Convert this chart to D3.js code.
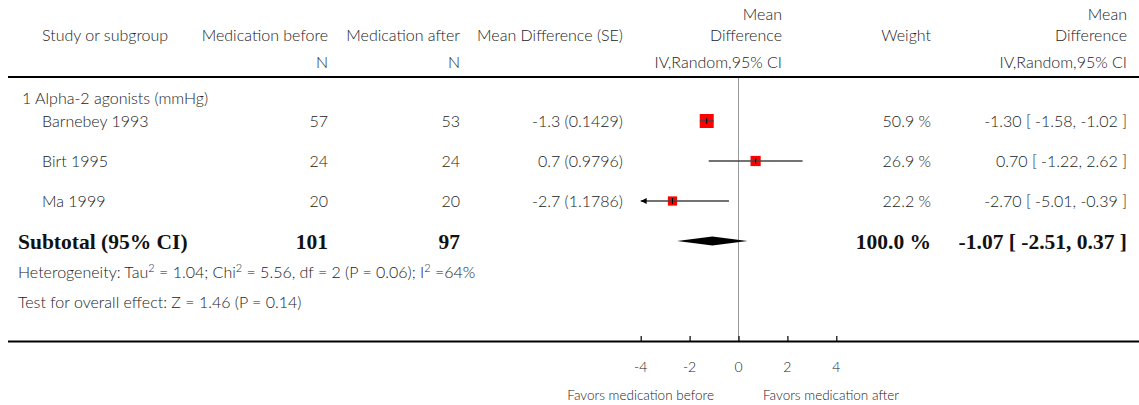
<!DOCTYPE html>
<html>
<head>
<meta charset="utf-8">
<script src="https://cdn.jsdelivr.net/npm/d3@7"></script>
<style>
  body { margin: 0; background: #fff; }
  text { font-family: Lato, "Open Sans", sans-serif; font-weight: 300; fill: #222; }
  .bold { font-family: "Liberation Serif", serif; font-weight: 700; fill: #111; }
</style>
</head>
<body>
<div id="chart"></div>
<script>
// data
const studies = ["Barnebey 1993", "Birt 1995", "Ma 1999"];
const nBefore = [57, 24, 20];
const nAfter = [53, 24, 20];
const meanDiff = [-1.3, 0.7, -2.7];
const se = [0.1429, 0.9796, 1.1786];
const ciLow = [-1.58, -1.22, -5.01];
const ciHigh = [-1.02, 2.62, -0.39];
const weights = [50.9, 26.9, 22.2];
const subtotal = { nBefore: 101, nAfter: 97, est: -1.07, low: -2.51, high: 0.37, weight: 100.0 };
const axisTicks = [-4, -2, 0, 2, 4];

const W = 1139, H = 405;
const svg = d3.select("#chart").append("svg").attr("width", W).attr("height", H);

// plot scale, -4..4
const x = d3.scaleLinear().domain([-4, 4]).range([640.7, 836.3]);
const size = d3.scaleSqrt().domain([0, 50.9]).range([0, 14]);

const col = { study: 42, nb: 328, na: 460, md: 623, plotTxt: 782, wt: 931, ci: 1127 };
const rowY = [126, 166, 206];
const fs = 16;

function txt(xx, yy, s, anchor, cls) {
  const t = svg.append("text").attr("x", xx).attr("y", yy).attr("text-anchor", anchor || "start")
    .style("font-size", fs + "px").text(s);
  if (cls) t.attr("class", cls);
  return t;
}
// hyphen minus like the original, not unicode minus
const fmt2 = v => v.toFixed(2);

// header
txt(col.study, 41, "Study or subgroup");
txt(col.nb, 41, "Medication before", "end");
txt(col.na, 41, "Medication after", "end");
txt(col.md, 41, "Mean Difference (SE)", "end");
txt(col.plotTxt, 20, "Mean", "end");
txt(col.plotTxt, 41, "Difference", "end");
txt(col.wt, 41, "Weight", "end");
txt(col.ci, 20, "Mean", "end");
txt(col.ci, 41, "Difference", "end");
txt(col.nb, 68, "N", "end");
txt(col.na, 68, "N", "end");
txt(col.plotTxt, 68, "IV,Random,95% CI", "end");
txt(col.ci, 68, "IV,Random,95% CI", "end");

svg.append("line").attr("x1", 8).attr("x2", W).attr("y1", 77).attr("y2", 77)
  .attr("stroke", "#000").attr("stroke-width", 2);

// zero line
svg.append("line").attr("x1", x(0)).attr("x2", x(0)).attr("y1", 78).attr("y2", 341)
  .attr("stroke", "#999").attr("stroke-width", 1);

txt(22, 104, "1 Alpha-2 agonists (mmHg)");

studies.forEach((s, i) => {
  const y = rowY[i] + 1;
  txt(col.study, y, s);
  txt(col.nb, y, nBefore[i], "end");
  txt(col.na, y, nAfter[i], "end");
  txt(col.md, y, meanDiff[i] + " (" + se[i] + ")", "end");
  txt(col.wt, y, weights[i].toFixed(1) + " %", "end");
  txt(col.ci, y, fmt2(meanDiff[i]) + " [ " + fmt2(ciLow[i]) + ", " + fmt2(ciHigh[i]) + " ]", "end");

  const cy = rowY[i] - 5;
  const lo = Math.max(ciLow[i], -4), hi = Math.min(ciHigh[i], 4);
  const s2 = size(weights[i]);
  svg.append("rect").attr("x", x(meanDiff[i]) - s2 / 2).attr("y", cy - s2 / 2)
    .attr("width", s2).attr("height", s2).attr("fill", "#f00");
  // CI line drawn over the square
  svg.append("line").attr("x1", x(lo)).attr("x2", x(hi)).attr("y1", cy).attr("y2", cy)
    .attr("stroke", "#444").attr("stroke-width", 1.5);
  if (ciLow[i] < -4) {
    svg.append("path")
      .attr("d", `M${x(-4)},${cy} l6,-3 l0,6 z`).attr("fill", "#000");
  }
  svg.append("line").attr("x1", x(meanDiff[i])).attr("x2", x(meanDiff[i]))
    .attr("y1", cy - 3).attr("y2", cy + 3).attr("stroke", "#000").attr("stroke-width", 1);
});

// subtotal
const sy = 249, bfs = "21.5px";
function bold(xx, s, anchor) {
  svg.append("text").attr("class", "bold").attr("x", xx).attr("y", sy)
    .attr("text-anchor", anchor || "start").style("font-size", bfs).text(s);
}
bold(18, "Subtotal (95% CI)");
bold(col.nb, subtotal.nBefore, "end");
bold(col.na, subtotal.nAfter, "end");
bold(col.wt, subtotal.weight.toFixed(1) + " %", "end");
bold(col.ci, fmt2(subtotal.est) + " [ " + fmt2(subtotal.low) + ", " + fmt2(subtotal.high) + " ]", "end");

const dy = 241;
svg.append("path")
  .attr("d", `M${x(subtotal.low)},${dy} L${x(subtotal.est)},${dy - 4.5} L${x(subtotal.high)},${dy} L${x(subtotal.est)},${dy + 4.5} Z`)
  .attr("fill", "#000");

// heterogeneity with superscripts
const het = txt(18, 278, "");
het.append("tspan").text("Heterogeneity: Tau");
het.append("tspan").attr("baseline-shift", "super").style("font-size", "11px").text("2");
het.append("tspan").text(" = 1.04; Chi");
het.append("tspan").attr("baseline-shift", "super").style("font-size", "11px").text("2");
het.append("tspan").text(" = 5.56, df = 2 (P = 0.06); I");
het.append("tspan").attr("baseline-shift", "super").style("font-size", "11px").text("2");
het.append("tspan").text(" =64%");

txt(18, 308, "Test for overall effect: Z = 1.46 (P = 0.14)");

// bottom axis
svg.append("line").attr("x1", 8).attr("x2", W).attr("y1", 341.5).attr("y2", 341.5)
  .attr("stroke", "#000").attr("stroke-width", 2);
const ax = svg.append("g").attr("transform", "translate(0,341)")
  .call(d3.axisTop(x).tickValues(axisTicks).tickSize(5).tickFormat(""));
ax.select(".domain").remove();
ax.selectAll(".tick line").attr("stroke", "#000").attr("stroke-width", 1.2);

axisTicks.forEach(t => txt(x(t), 372, t, "middle").style("font-size", "14px"));

txt(714, 400, "Favors medication before", "end").style("font-size", "13.5px");
txt(763, 400, "Favors medication after", "start").style("font-size", "13.5px");
</script>
</body>
</html>
